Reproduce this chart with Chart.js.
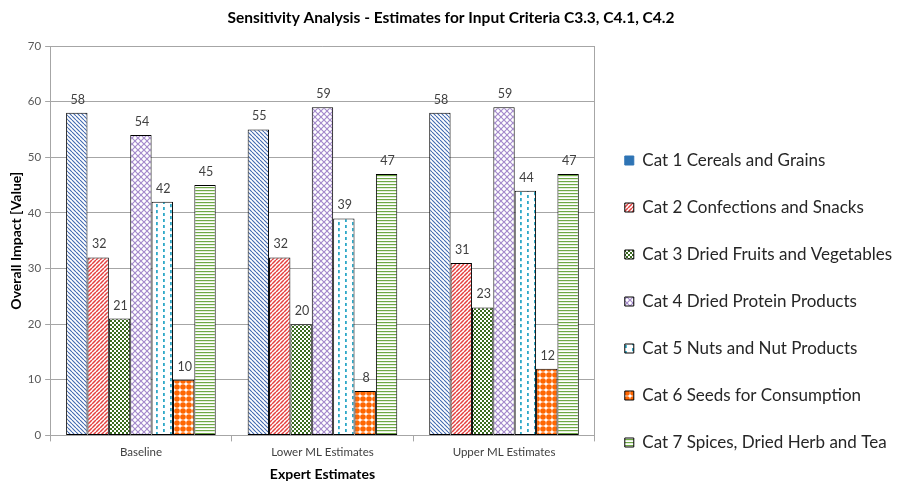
<!DOCTYPE html>
<html>
<head>
<meta charset="utf-8">
<script src="https://cdn.jsdelivr.net/npm/chart.js@4/dist/chart.umd.min.js"></script>
<style>
  html, body { margin: 0; padding: 0; background: #fff; }
  #wrap { width: 902px; height: 481px; position: relative; }
</style>
</head>
<body>
<div id="wrap"><canvas id="c" width="902" height="481"></canvas></div>
<script>
// Scenario groups on the x axis
const scenarios = ['Baseline', 'Lower ML Estimates', 'Upper ML Estimates'];

// Product categories (one bar series each)
const categoryNames = [
  'Cat 1 Cereals and Grains',
  'Cat 2 Confections and Snacks',
  'Cat 3 Dried Fruits and Vegetables',
  'Cat 4 Dried Protein Products',
  'Cat 5 Nuts and Nut Products',
  'Cat 6 Seeds for Consumption',
  'Cat 7 Spices, Dried Herb and Tea'
];

// Overall impact per category, in scenario order
const cat1 = [58, 55, 58];
const cat2 = [32, 32, 31];
const cat3 = [21, 20, 23];
const cat4 = [54, 59, 59];
const cat5 = [42, 39, 44];
const cat6 = [10, 8, 12];
const cat7 = [45, 47, 47];

// Value axis
const yTicks = [0, 10, 20, 30, 40, 50, 60, 70];

const FONT = 'Lato, "Open Sans", sans-serif';
const canvas = document.getElementById('c');
const ctx = canvas.getContext('2d');

function tile(w, h, paint) {
  const t = document.createElement('canvas');
  t.width = w; t.height = h;
  const g = t.getContext('2d');
  g.fillStyle = '#ffffff';
  g.fillRect(0, 0, w, h);
  paint(g, w, h);
  return ctx.createPattern(t, 'repeat');
}

function diag(g, p, color, lw, down) {
  g.strokeStyle = color; g.lineWidth = lw;
  g.beginPath();
  for (let k = -1; k <= 1; k++) {
    if (down) { g.moveTo(k * p, 0); g.lineTo(k * p + p, p); }
    else { g.moveTo(k * p, p); g.lineTo(k * p + p, 0); }
  }
  g.stroke();
}

const fills = [
  // blue downward diagonal
  tile(4, 4, (g) => diag(g, 4, '#4169b0', 1.1, true)),
  // red upward diagonal
  tile(4, 4, (g) => diag(g, 4, '#e4403f', 1.5, false)),
  // dark green checkerboard
  tile(4, 4, (g) => {
    g.fillStyle = '#3a6b1f'; g.fillRect(0, 0, 4, 4);
    g.fillStyle = '#ffffff'; g.fillRect(0, 0, 2, 2); g.fillRect(2, 2, 2, 2);
  }),
  // purple lattice
  tile(6, 6, (g) => { diag(g, 6, '#a58bcc', 1.2, true); diag(g, 6, '#a58bcc', 1.2, false); }),
  // cyan staggered vertical dashes
  tile(14, 6, (g) => {
    g.fillStyle = '#2fa9c8';
    g.fillRect(2, 0, 1.8, 3.2);
    g.fillRect(9, 3, 1.8, 3.2);
  }),
  // orange dots
  tile(6, 6, (g) => {
    g.fillStyle = '#ff6600';
    g.beginPath(); g.arc(3, 3, 2.8, 0, Math.PI * 2); g.fill();
  }),
  // green horizontal lines
  tile(4, 3, (g) => { g.fillStyle = '#6ea845'; g.fillRect(0, 1, 4, 1.2); })
];

const series = [cat1, cat2, cat3, cat4, cat5, cat6, cat7];

const datasets = series.map((values, i) => ({
  label: categoryNames[i],
  data: values,
  backgroundColor: fills[i],
  borderColor: '#000000',
  borderWidth: 1,
  borderSkipped: false
}));

// Value labels above each bar
const barValueLabels = {
  id: 'barValueLabels',
  afterDatasetsDraw(chart) {
    const g = chart.ctx;
    g.save();
    g.font = '12.5px ' + FONT;
    g.fillStyle = '#404040';
    g.textAlign = 'center';
    g.textBaseline = 'middle';
    chart.data.datasets.forEach((ds, di) => {
      const meta = chart.getDatasetMeta(di);
      meta.data.forEach((bar, i) => {
        g.fillText(String(ds.data[i]), bar.x + 1, bar.y - 13);
      });
    });
    g.restore();
  }
};

const gridGrey = '#a6a6a6';

new Chart(canvas, {
  type: 'bar',
  data: { labels: scenarios, datasets },
  plugins: [barValueLabels],
  options: {
    responsive: false,
    animation: false,
    layout: { padding: 0 },
    datasets: { bar: { categoryPercentage: 0.824, barPercentage: 1 } },
    plugins: {
      title: {
        display: true,
        text: 'Sensitivity Analysis - Estimates for Input Criteria C3.3, C4.1, C4.2',
        color: '#000000',
        font: { family: FONT, size: 15.5, weight: 'bold' },
        padding: { top: 8.7, bottom: 18.7 }
      },
      legend: {
        position: 'right',
        align: 'end',
        maxWidth: 309,
        labels: {
          color: '#262626',
          font: { family: FONT, size: 17 },
          boxWidth: 9,
          boxHeight: 9,
          padding: 30,
          generateLabels(chart) {
            const items = Chart.defaults.plugins.legend.labels.generateLabels(chart);
            items[0].fillStyle = '#2e74b5';
            items[0].strokeStyle = '#2e74b5';
            items.forEach((it) => { it.lineWidth = 1; });
            return items;
          }
        }
      },
      tooltip: { enabled: false }
    },
    scales: {
      x: {
        grid: {
          offset: true,
          drawOnChartArea: true,
          color: (c) => (c.index === undefined ? gridGrey : 'transparent'),
          tickColor: gridGrey,
          tickLength: 6
        },
        border: { color: gridGrey, width: 1 },
        ticks: { color: '#404040', font: { family: FONT, size: 11.5 }, padding: 4 },
        title: {
          display: true,
          text: 'Expert Estimates',
          color: '#000000',
          font: { family: FONT, size: 14, weight: 'bold' },
          padding: { top: 3, bottom: -2 }
        }
      },
      y: {
        min: 0,
        max: 70,
        afterBuildTicks(scale) { scale.ticks = yTicks.map((v) => ({ value: v })); },
        grid: { color: gridGrey, tickColor: gridGrey, tickLength: 5 },
        border: { color: gridGrey, width: 1 },
        ticks: { color: '#595959', font: { family: FONT, size: 11.5 }, padding: 4 },
        title: {
          display: true,
          text: 'Overall Impact [Value]',
          color: '#000000',
          font: { family: FONT, size: 14, weight: 'bold' },
          padding: { top: 8, bottom: -1 }
        }
      }
    }
  }
});
</script>
</body>
</html>
